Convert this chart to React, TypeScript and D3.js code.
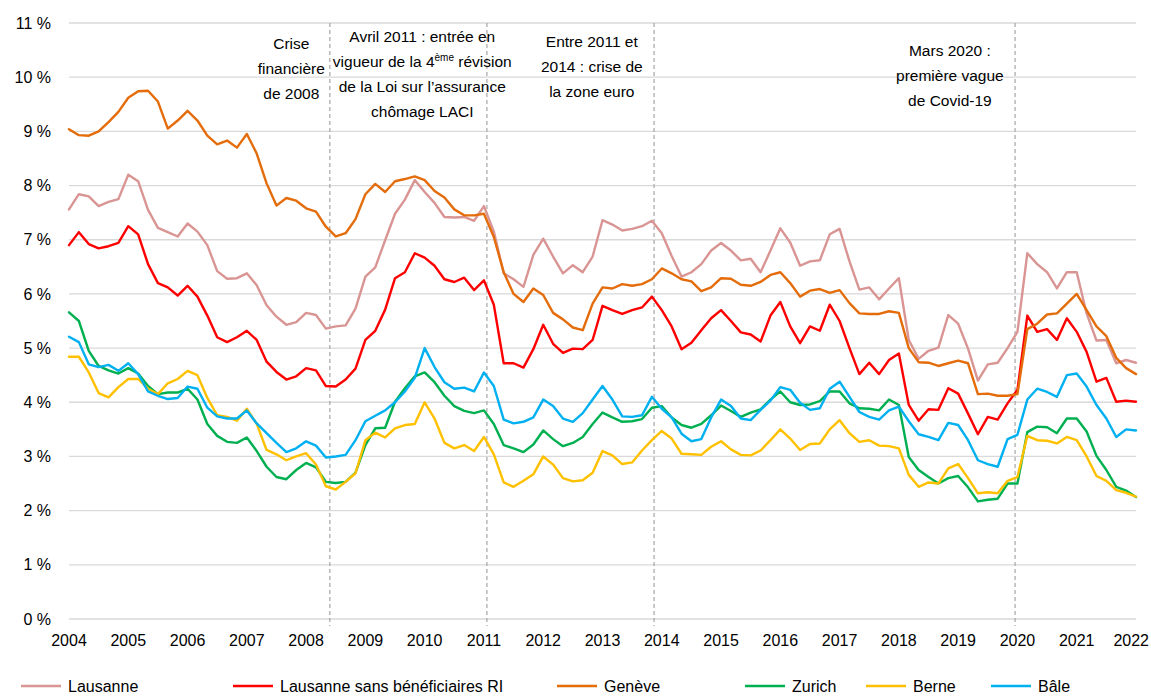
import React, { useEffect, useRef } from 'react';
import * as d3 from 'd3';

// bimonthly readings, Jan 2004 .. Jan 2022
const START_YEAR = 2004;
const STEP_MONTHS = 2;

const yearTicks = [2004, 2005, 2006, 2007, 2008, 2009, 2010, 2011, 2012, 2013, 2014, 2015, 2016, 2017, 2018, 2019, 2020, 2021, 2022];
const pctTicks = [0, 1, 2, 3, 4, 5, 6, 7, 8, 9, 10, 11];

const lausanne = [
  7.56, 7.84, 7.80, 7.62, 7.70, 7.75, 8.20, 8.08, 7.55, 7.22,
  7.14, 7.06, 7.30, 7.15, 6.90, 6.42, 6.28, 6.29, 6.38, 6.16,
  5.79, 5.58, 5.43, 5.48, 5.65, 5.61, 5.36, 5.40, 5.42, 5.73,
  6.32, 6.49, 6.99, 7.48, 7.74, 8.10, 7.88, 7.68, 7.42, 7.41,
  7.42, 7.35, 7.62, 7.15, 6.38, 6.27, 6.13, 6.72, 7.02, 6.69,
  6.38, 6.53, 6.40, 6.69, 7.36, 7.28, 7.17, 7.20, 7.25, 7.35,
  7.12, 6.70, 6.32, 6.40, 6.55, 6.80, 6.94, 6.80, 6.62, 6.65,
  6.40, 6.80, 7.21, 6.95, 6.52, 6.60, 6.62, 7.10, 7.20, 6.60,
  6.08, 6.12, 5.90, 6.10, 6.29, 5.15, 4.80, 4.95, 5.01, 5.61,
  5.45, 4.99, 4.40, 4.70, 4.73, 5.00, 5.30, 6.75, 6.55, 6.40,
  6.10, 6.40, 6.40, 5.64, 5.14, 5.15, 4.72, 4.78, 4.73,
];

const lausanneSansRI = [
  6.90, 7.14, 6.92, 6.84, 6.88, 6.94, 7.25, 7.10, 6.55, 6.20,
  6.12, 5.97, 6.15, 5.95, 5.60, 5.20, 5.11, 5.20, 5.32, 5.15,
  4.75, 4.56, 4.42, 4.48, 4.63, 4.59, 4.30, 4.29, 4.42, 4.62,
  5.15, 5.32, 5.71, 6.29, 6.40, 6.75, 6.67, 6.52, 6.27, 6.22,
  6.30, 6.07, 6.25, 5.80, 4.72, 4.72, 4.64, 4.98, 5.43, 5.08,
  4.91, 4.99, 4.98, 5.15, 5.78, 5.70, 5.63, 5.70, 5.75, 5.95,
  5.70, 5.40, 4.98, 5.10, 5.33, 5.55, 5.70, 5.50, 5.29, 5.25,
  5.12, 5.60, 5.85, 5.40, 5.09, 5.40, 5.32, 5.80, 5.50, 5.00,
  4.52, 4.73, 4.52, 4.78, 4.90, 3.95, 3.66, 3.87, 3.86, 4.26,
  4.16, 3.79, 3.41, 3.73, 3.68, 3.98, 4.23, 5.60, 5.30, 5.35,
  5.15, 5.55, 5.30, 4.93, 4.38, 4.45, 4.01, 4.03, 4.01,
];

const geneve = [
  9.04, 8.93, 8.92, 9.00, 9.17, 9.36, 9.62, 9.74, 9.75, 9.55,
  9.05, 9.20, 9.38, 9.20, 8.92, 8.76, 8.83, 8.70, 8.95, 8.59,
  8.04, 7.63, 7.77, 7.72, 7.58, 7.52, 7.24, 7.06, 7.12, 7.38,
  7.84, 8.03, 7.88, 8.08, 8.12, 8.17, 8.10, 7.90, 7.78, 7.56,
  7.45, 7.45, 7.48, 7.05, 6.40, 6.00, 5.85, 6.10, 5.98, 5.65,
  5.53, 5.38, 5.33, 5.82, 6.12, 6.10, 6.18, 6.15, 6.18, 6.27,
  6.47, 6.38, 6.27, 6.23, 6.05, 6.12, 6.29, 6.28, 6.17, 6.15,
  6.22, 6.35, 6.40, 6.20, 5.95, 6.06, 6.09, 6.02, 6.07, 5.83,
  5.64, 5.63, 5.63, 5.68, 5.65, 5.00, 4.74, 4.73, 4.67, 4.72,
  4.77, 4.72, 4.15, 4.16, 4.12, 4.12, 4.15, 5.35, 5.45, 5.62,
  5.64, 5.82, 6.00, 5.70, 5.40, 5.22, 4.82, 4.63, 4.52,
];

const zurich = [
  5.66, 5.50, 4.95, 4.67, 4.59, 4.53, 4.63, 4.53, 4.30, 4.15,
  4.18, 4.18, 4.25, 4.05, 3.60, 3.38, 3.27, 3.25, 3.35, 3.10,
  2.81, 2.62, 2.58, 2.75, 2.88, 2.80, 2.53, 2.51, 2.53, 2.70,
  3.21, 3.52, 3.53, 4.01, 4.26, 4.48, 4.55, 4.37, 4.12, 3.93,
  3.84, 3.80, 3.85, 3.60, 3.21, 3.15, 3.08, 3.22, 3.48, 3.32,
  3.19, 3.25, 3.36, 3.60, 3.81, 3.72, 3.64, 3.65, 3.69, 3.90,
  3.93, 3.72, 3.58, 3.53, 3.60, 3.76, 3.94, 3.84, 3.73, 3.81,
  3.87, 4.05, 4.20, 4.00, 3.95, 3.96, 4.02, 4.20, 4.20, 3.98,
  3.89, 3.88, 3.85, 4.05, 3.95, 2.99, 2.75, 2.62, 2.50, 2.60,
  2.64, 2.43, 2.17, 2.20, 2.22, 2.50, 2.50, 3.45, 3.55, 3.54,
  3.43, 3.70, 3.70, 3.46, 3.01, 2.75, 2.44, 2.37, 2.25,
];

const berne = [
  4.84, 4.84, 4.55, 4.17, 4.09, 4.28, 4.43, 4.43, 4.25, 4.15,
  4.35, 4.43, 4.58, 4.50, 4.08, 3.76, 3.73, 3.66, 3.88, 3.60,
  3.12, 3.04, 2.93, 3.00, 3.06, 2.85, 2.45, 2.39, 2.53, 2.69,
  3.30, 3.44, 3.35, 3.52, 3.58, 3.60, 4.00, 3.70, 3.25, 3.15,
  3.21, 3.10, 3.36, 3.04, 2.52, 2.44, 2.55, 2.67, 3.00, 2.85,
  2.60, 2.54, 2.56, 2.70, 3.10, 3.02, 2.86, 2.89, 3.11, 3.30,
  3.47, 3.33, 3.05, 3.04, 3.03, 3.18, 3.28, 3.13, 3.03, 3.02,
  3.11, 3.30, 3.50, 3.33, 3.12, 3.23, 3.24, 3.50, 3.67, 3.43,
  3.27, 3.30, 3.20, 3.19, 3.15, 2.66, 2.44, 2.52, 2.50, 2.78,
  2.86, 2.60, 2.32, 2.34, 2.32, 2.55, 2.62, 3.38, 3.30, 3.29,
  3.24, 3.36, 3.30, 3.00, 2.64, 2.55, 2.38, 2.33, 2.26,
];

const bale = [
  5.21, 5.11, 4.70, 4.65, 4.69, 4.58, 4.72, 4.52, 4.20, 4.12,
  4.06, 4.08, 4.29, 4.25, 3.90, 3.74, 3.70, 3.70, 3.85, 3.61,
  3.43, 3.25, 3.08, 3.15, 3.28, 3.20, 2.98, 3.00, 3.03, 3.30,
  3.65, 3.75, 3.85, 4.00, 4.20, 4.45, 5.00, 4.65, 4.37, 4.25,
  4.27, 4.20, 4.55, 4.30, 3.68, 3.61, 3.64, 3.72, 4.05, 3.93,
  3.70, 3.64, 3.80, 4.05, 4.30, 4.05, 3.74, 3.73, 3.76, 4.10,
  3.88, 3.72, 3.42, 3.28, 3.32, 3.72, 4.05, 3.93, 3.70, 3.67,
  3.86, 4.03, 4.28, 4.23, 3.99, 3.86, 3.89, 4.25, 4.38, 4.10,
  3.82, 3.73, 3.68, 3.85, 3.92, 3.65, 3.41, 3.36, 3.30, 3.62,
  3.58, 3.30, 2.93, 2.86, 2.81, 3.32, 3.40, 4.05, 4.25, 4.19,
  4.10, 4.50, 4.53, 4.29, 3.95, 3.70, 3.36, 3.50, 3.48,
];

const seriesNames = ['Lausanne', 'Lausanne sans bénéficiaires RI', 'Genève', 'Zurich', 'Berne', 'Bâle'];
const seriesValues = [lausanne, lausanneSansRI, geneve, zurich, berne, bale];
const seriesColors = ['#D99594', '#FF0000', '#E46C0A', '#00B050', '#FFC000', '#00B0F0'];

// events (dashed lines) and their notes
const eventYears = [2008.4, 2011.05, 2013.87, 2019.96];
const noteYears = [2007.75, 2009.96, 2012.82, 2018.86];
const noteTops = [44, 37, 42, 51];
const noteLines = [
  ['Crise', 'financière', 'de 2008'],
  ['Avril 2011 : entrée en', 'vigueur de la 4|ème| révision', 'de la Loi sur l’assurance', 'chômage LACI'],
  ['Entre 2011 et', '2014 : crise de', 'la zone euro'],
  ['Mars 2020 :', 'première vague', 'de Covid-19'],
];

const legendX = [21, 233, 557, 745, 866, 991];

const W = 1151;
const H = 697;
const FONT = 'Liberation Sans, Arial, sans-serif';

const UnemploymentChart: React.FC = () => {
  const svgRef = useRef<SVGSVGElement | null>(null);

  useEffect(() => {
    const svg = d3.select(svgRef.current);
    svg.selectAll('*').remove();

    const x = d3.scaleLinear().domain([2004, 2022]).range([69, 1136]);
    const y = d3.scaleLinear().domain([0, 11]).range([619, 23]);

    const g = svg.append('g').style('font-family', FONT);

    // grid
    g.append('g')
      .selectAll('line')
      .data(pctTicks)
      .join('line')
      .attr('x1', x(2004))
      .attr('x2', x(2022))
      .attr('y1', d => y(d))
      .attr('y2', d => y(d))
      .attr('stroke', '#D9D9D9')
      .attr('stroke-width', 1.3);

    // y labels
    g.append('g')
      .selectAll('text')
      .data(pctTicks)
      .join('text')
      .attr('x', 51)
      .attr('y', d => y(d))
      .attr('dy', '0.35em')
      .attr('text-anchor', 'end')
      .attr('font-size', 16)
      .attr('fill', '#000')
      .text(d => `${d}\u00a0%`);

    // x labels (kept inside the picture)
    g.append('g')
      .selectAll('text')
      .data(yearTicks)
      .join('text')
      .attr('x', d => x(d))
      .attr('y', 646)
      .attr('text-anchor', 'middle')
      .attr('font-size', 16)
      .attr('fill', '#000')
      .text(d => d)
      .each(function (d) {
        const el = this as SVGTextElement;
        const half = el.getComputedTextLength() / 2;
        if (x(d) + half > W - 2) d3.select(el).attr('x', W - 2 - half);
      });

    // event lines
    g.append('g')
      .selectAll('line')
      .data(eventYears)
      .join('line')
      .attr('x1', d => x(d))
      .attr('x2', d => x(d))
      .attr('y1', y(11))
      .attr('y2', 626)
      .attr('stroke', '#A6A6A6')
      .attr('stroke-width', 1.2)
      .attr('stroke-dasharray', '4,3');

    // notes
    noteLines.forEach((lines, k) => {
      lines.forEach((line, j) => {
        const t = g.append('text')
          .attr('x', x(noteYears[k]))
          .attr('y', noteTops[k] + j * 25)
          .attr('dy', '0.35em')
          .attr('text-anchor', 'middle')
          .attr('font-size', 15.5)
          .attr('fill', '#000');
        const parts = line.split('|');
        if (parts.length === 1) {
          t.text(line);
        } else {
          t.append('tspan').text(parts[0]);
          t.append('tspan').attr('font-size', 10).attr('dy', -6).text(parts[1]);
          t.append('tspan').attr('dy', 6).text(parts[2]);
        }
      });
    });

    // series
    const line = d3.line<number>()
      .x((_, i) => x(START_YEAR + (i * STEP_MONTHS) / 12))
      .y(d => y(d));

    g.append('g')
      .selectAll('path')
      .data(seriesValues)
      .join('path')
      .attr('d', d => line(d))
      .attr('fill', 'none')
      .attr('stroke', (_, i) => seriesColors[i])
      .attr('stroke-width', 2.4)
      .attr('stroke-linejoin', 'round')
      .attr('stroke-linecap', 'round');

    // legend
    const lg = g.append('g')
      .selectAll('g')
      .data(seriesNames)
      .join('g')
      .attr('transform', (_, i) => `translate(${legendX[i]},686)`);
    lg.append('line')
      .attr('x1', 0)
      .attr('x2', 40)
      .attr('stroke', (_, i) => seriesColors[i])
      .attr('stroke-width', 2.4);
    lg.append('text')
      .attr('x', 47)
      .attr('dy', '0.35em')
      .attr('font-size', 16)
      .attr('fill', '#000')
      .text(d => d);
  }, []);

  return (
    <div style={{ position: 'absolute', left: 0, top: 0, background: '#fff' }}>
      <svg ref={svgRef} width={W} height={H} style={{ display: 'block' }} />
    </div>
  );
};

export default function App() {
  return <UnemploymentChart />;
}
